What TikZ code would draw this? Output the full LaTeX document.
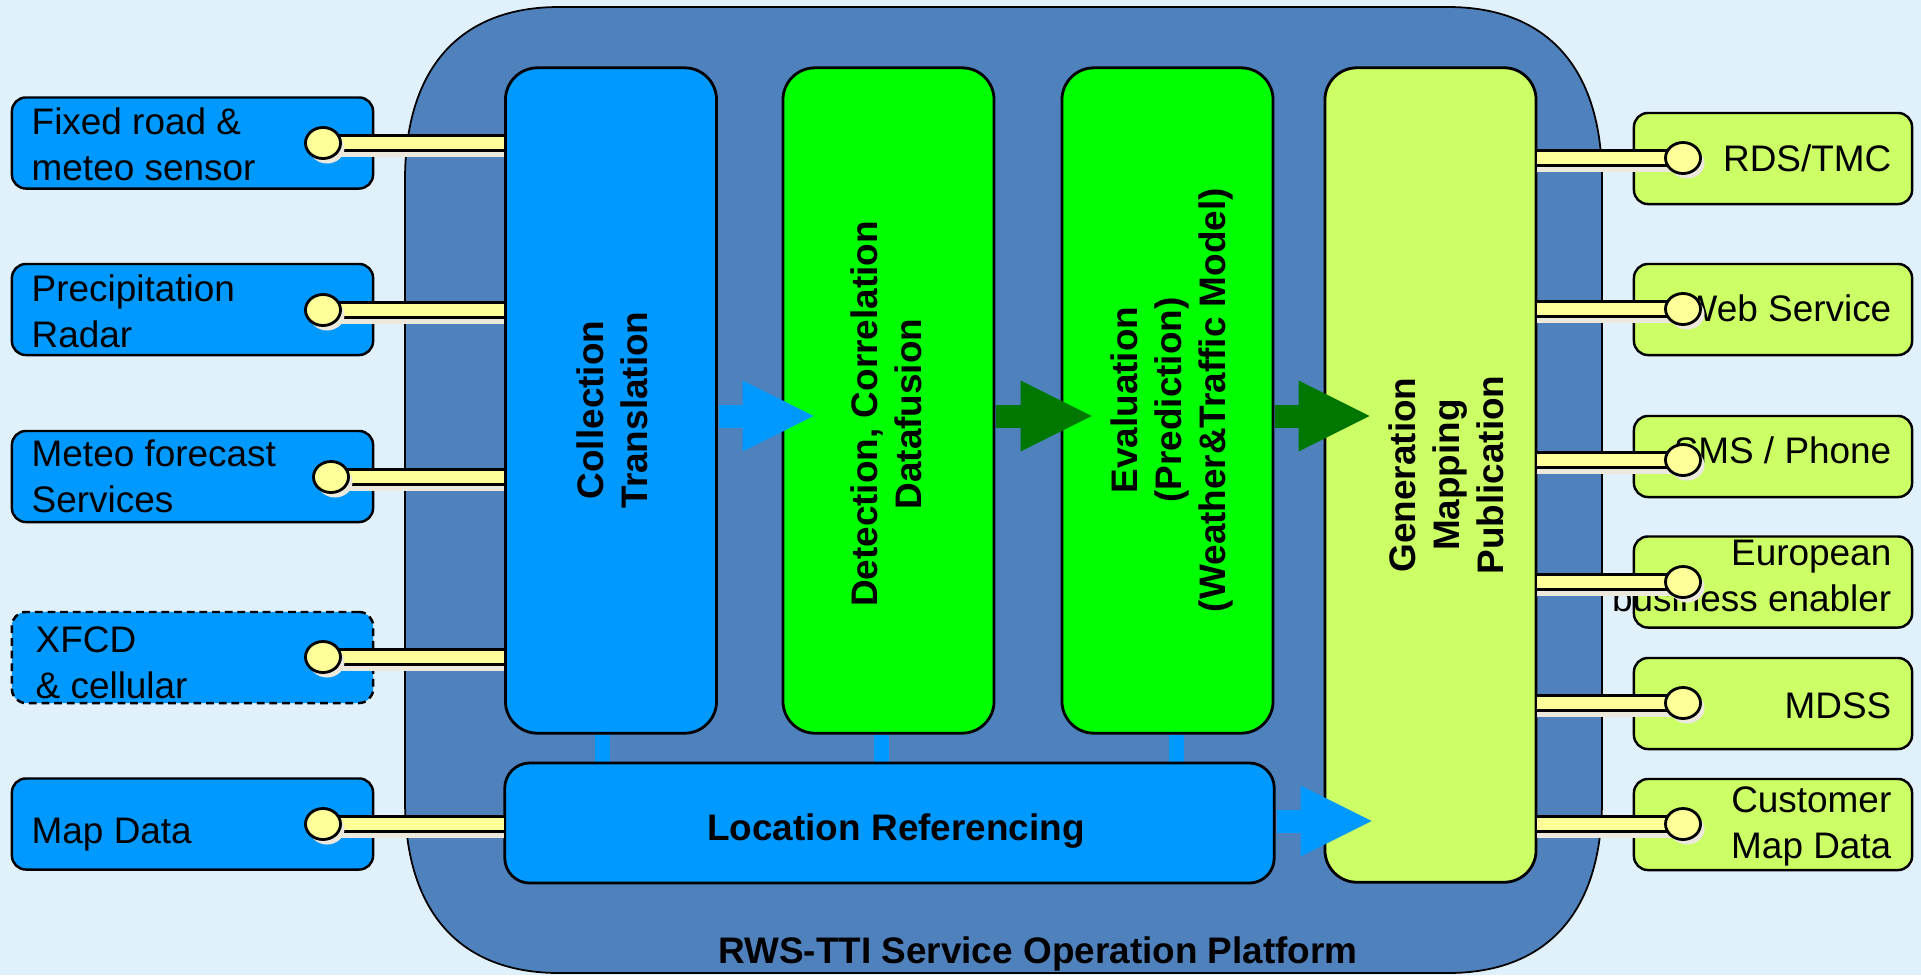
\documentclass[tikz,border=0pt]{standalone}
\usepackage{fontspec}
\setmainfont{Liberation Sans}
\usetikzlibrary{calc,shapes.geometric,arrows.meta,shadows}
\definecolor{bgc}{HTML}{E0F1FB}
\definecolor{plat}{HTML}{4F81BD}
\definecolor{cblue}{HTML}{0099FF}
\definecolor{cgreen}{HTML}{00FF00}
\definecolor{clime}{HTML}{CCFF66}
\definecolor{dgreen}{HTML}{007800}
\definecolor{cyel}{HTML}{FFFF99}
\definecolor{shd}{HTML}{ECE9DC}
\pgfdeclarelayer{back}
\pgfdeclarelayer{bottom}
\pgfsetlayers{bottom,back,main}
\tikzset{
 inbox/.style={draw=black, line width=0.8pt, rounded corners=0.32cm, inner sep=0pt, minimum width=2.11cm},
 srcbox/.style={draw=black, line width=0.7pt, rounded corners=0.14cm, fill=cblue, minimum width=3.61cm, minimum height=0.91cm, inner sep=0pt},
 outbox/.style={draw=black, line width=0.7pt, rounded corners=0.14cm, fill=clime, minimum width=2.78cm, minimum height=0.91cm, inner sep=0pt},
 lbl/.style={font=\fontsize{10.5}{13}\selectfont, inner sep=0pt},
 btxt/.style={font=\bfseries\fontsize{10.5}{12.5}\selectfont, inner sep=0pt, align=center},
 sock/.style={ellipse, draw=black, line width=0.8pt, fill=cyel, minimum width=0.35cm, minimum height=0.31cm, inner sep=0pt, general shadow={fill=shd, shadow xshift=0.04cm, shadow yshift=-0.05cm}},
 plug/.style={draw=black, line width=0.7pt, double=cyel, double distance=0.125cm},
 plugshadow/.style={draw=shd, line width=0.16cm},
 vbar/.style={draw=cblue, line width=0.15cm},
 barrow/.style={draw=cblue, line width=0.23cm, -{Triangle[length=0.71cm,width=0.71cm,line width=0pt]}},
 garrow/.style={draw=dgreen, line width=0.23cm, -{Triangle[length=0.71cm,width=0.71cm,line width=0pt]}},
}
\begin{document}
\begin{tikzpicture}[x=0.01cm, y=-0.01cm]
\begin{pgfonlayer}{bottom}
\fill[bgc] (0,0) rectangle (1921,975);
\end{pgfonlayer}
\useasboundingbox (0,0) rectangle (1921,975);

% platform
\begin{pgfonlayer}{bottom}
\filldraw[fill=plat, draw=black, line width=0.5pt]
  (405,180) .. controls (405,68) and (460,7) .. (559,7) -- (1448,7)
  .. controls (1547,7) and (1602,68) .. (1602,180) -- (1602,800)
  .. controls (1602,912) and (1547,973) .. (1448,973) -- (559,973)
  .. controls (460,973) and (405,912) .. (405,800) -- cycle;
\end{pgfonlayer}

% inner boxes
\node[inbox, fill=cblue, minimum height=6.65cm] (coll) at (611,400.5) {};
\node[inbox, fill=cgreen, minimum height=6.65cm] (det) at (888.5,400.5) {};
\node[inbox, fill=cgreen, minimum height=6.65cm] (eval) at (1167.5,400.5) {};
\node[inbox, fill=clime, minimum height=8.14cm] (gen) at (1430.5,475) {};
\node[inbox, fill=cblue, rounded corners=0.25cm, minimum width=7.69cm, minimum height=1.2cm] (loc) at (889.5,823) {};

% vertical links to location referencing
\coordinate (v1) at (602,0);
\coordinate (v2) at (881,0);
\coordinate (v3) at (1176,0);
\begin{pgfonlayer}{back}
\draw[vbar] (v1 |- coll.south) -- (v1 |- loc.north);
\draw[vbar] (v2 |- det.south) -- (v2 |- loc.north);
\draw[vbar] (v3 |- eval.south) -- (v3 |- loc.north);
\end{pgfonlayer}

% block arrows
\coordinate (a1) at (0,416);
\coordinate (a2) at (0,821);
\draw[barrow] ($(coll.east |- a1)+(1,0)$) -- ($(det.west |- a1)+(32,0)$);
\draw[garrow] ($(det.east |- a1)+(1,0)$) -- ($(eval.west |- a1)+(31,0)$);
\draw[garrow] ($(eval.east |- a1)+(1,0)$) -- ($(gen.west |- a1)+(46,0)$);
\draw[barrow] ($(loc.east |- a2)+(1,0)$) -- ($(gen.west |- a2)+(48,0)$);

% inner texts
\node[btxt, rotate=90] (colltxt) at (612,410) {Collection\\Translation};
\node[btxt, rotate=90] (dettxt) at (886,414) {Detection, Correlation\\Datafusion};
\node[btxt, rotate=90] (evaltxt) at (1172,400) {Evaluation\\(Prediction)\\(Weather\&Traffic Model)};
\node[btxt, rotate=90] (gentxt) at (1446,475) {Generation\\Mapping\\Publication};
\node[btxt] (loctxt) at (896,831) {Location Referencing};
\node[btxt, anchor=base] (title) at (1038,963) {RWS-TTI Service Operation Platform};

% source boxes
\node[srcbox] (src1) at (192.5,143) {};
\node[srcbox] (src2) at (192.5,309.5) {};
\node[srcbox] (src3) at (192.5,476.5) {};
\node[srcbox, dashed, dash pattern=on 2.2pt off 1.4pt] (src4) at (192.5,657.5) {};
\node[srcbox] (src5) at (192.5,824) {};
\node[lbl, anchor=base west, align=left] (st1) at (31,180) {Fixed road \&\\meteo sensor};
\node[lbl, anchor=base west, align=left] (st2) at (31,347) {Precipitation\\Radar};
\node[lbl, anchor=base west, align=left] (st3) at (31,512) {Meteo forecast\\Services};
\node[lbl, anchor=base west, align=left] (st4) at (35,698) {XFCD\\\& cellular};
\node[lbl, anchor=base west, align=left] (st5) at (31,843) {Map Data};

% output boxes
\node[outbox] (out1) at (1773,158.5) {};
\node[outbox] (out2) at (1773,309.5) {};
\node[outbox, minimum height=0.81cm] (out3) at (1773,456.5) {};
\node[outbox] (out4) at (1773,582) {};
\node[outbox] (out5) at (1773,703.5) {};
\node[outbox] (out6) at (1773,824.5) {};
\node[lbl, anchor=base east, align=right] (ot1) at (1892,171) {RDS/TMC};
\node[lbl, anchor=base east, align=right] (ot2) at (1892,321) {Web Service};
\node[lbl, anchor=base east, align=right] (ot3) at (1892,463) {SMS / Phone};
\node[lbl, anchor=base east, align=right] (ot4) at (1892,611) {European\\business enabler};
\node[lbl, anchor=base east, align=right] (ot5) at (1892,718) {MDSS};
\node[lbl, anchor=base east, align=right] (ot6) at (1892,858) {Customer\\Map Data};

% input plugs
\foreach \n/\x/\y in {1/323/143, 2/323/310, 3/331/477, 4/323/657, 5/323/824}{
  \coordinate (p\n) at (\x,\y);
  \draw[plugshadow] ($(p\n)+(3,6)$) -- ($(p\n -| coll.west)+(0,6)$);
  \draw[plug] (p\n) -- (p\n -| coll.west);
  \node[sock] (sk\n) at (p\n) {};
}
% output plugs
\foreach \n/\y in {1/158, 2/309, 3/460, 4/582, 5/703, 6/824}{
  \coordinate (q\n) at (1683,\y);
  \draw[plugshadow] ($(q\n -| gen.east)+(0,6)$) -- ($(q\n)+(3,6)$);
  \draw[plug] (q\n -| gen.east) -- (q\n);
  \node[sock] (ok\n) at (q\n) {};
}
\end{tikzpicture}
\end{document}
